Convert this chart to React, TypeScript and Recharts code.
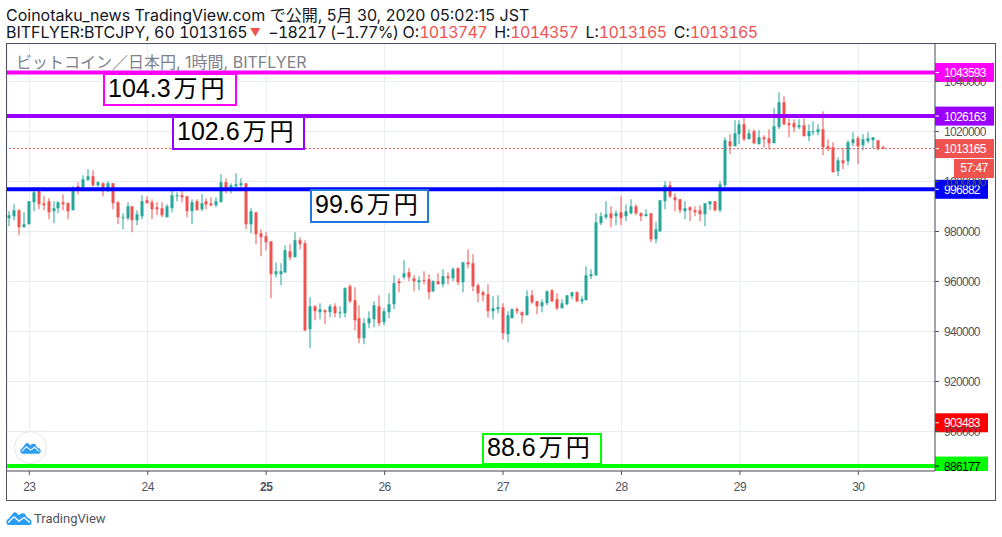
import { Bar, CartesianGrid, ComposedChart, ReferenceLine, XAxis, YAxis } from 'recharts'

const UP = '#26a69a'
const DOWN = '#ef5350'
const AXIS = '#50535e'
const FONT = 'Inter, "Noto Sans CJK JP", sans-serif'
const AXIS_FONT = '"Liberation Sans", sans-serif'
const PANE_BOTTOM = 471

// hourly candles, May 22 20:00 -> May 30 05:00 JST
const opens = [
  985300, 986100, 988500, 981700, 982900, 991700, 996100, 991300, 992100, 988100,
  989300, 991700, 991300, 988500, 998100, 996900, 1000500, 1002100, 998500, 999300,
  997200, 999300, 991700, 985300, 985300, 990100, 984500, 986100, 992500, 991700,
  989700, 989300, 985700, 989300, 994100, 994500, 994100, 988100, 992100, 988900,
  992100, 991300, 990500, 991700, 999700, 997600, 998100, 998500, 999300, 982900,
  987700, 979300, 978100, 976100, 962900, 962900, 963700, 972100, 969700, 976500,
  975300, 940900, 950100, 947700, 948500, 947700, 950100, 947300, 947300, 958100,
  952500, 945300, 937300, 943300, 944900, 950100, 943700, 947700, 950900, 960100,
  961700, 963700, 961300, 959700, 960500, 960900, 956100, 960100, 958900, 962100,
  961300, 965300, 959700, 967700, 967300, 958500, 955700, 954900, 948100, 948900,
  949700, 938900, 945300, 948900, 947700, 946500, 954500, 952100, 950100, 951300,
  956500, 952900, 949300, 950900, 954100, 955700, 952100, 952500, 962100, 962500,
  983300, 985700, 987300, 986100, 987700, 986100, 987300, 990100, 987300, 986100,
  987300, 976900, 980100, 992100, 998500, 993700, 992900, 988100, 989700, 988500,
  988500, 986900, 990900, 992100, 988500, 998500, 1016100, 1014100, 1018900, 1022900,
  1016900, 1020100, 1014900, 1017700, 1017300, 1015300, 1021700, 1031700, 1023300, 1023300,
  1021700, 1022500, 1018100, 1019700, 1019700, 1020900, 1014100, 1013700, 1004100, 1008500,
  1008100, 1015300, 1017300, 1014500, 1016100, 1016500, 1016500, 1013747,
]
const highs = [
  988100, 990900, 988900, 987700, 992100, 997200, 997200, 994100, 993300, 992100,
  992100, 994900, 991700, 998100, 999700, 1002500, 1004900, 1004500, 1000100, 999700,
  1000100, 999300, 992100, 987300, 991700, 990100, 988500, 994500, 994100, 992900,
  991700, 991700, 990900, 996500, 995700, 996500, 994100, 992900, 992900, 994900,
  993300, 993700, 993700, 1002900, 1001300, 999300, 1003300, 1001300, 999300, 989300,
  987700, 980900, 979700, 976100, 967700, 967300, 974500, 974900, 979700, 977700,
  976500, 953700, 950500, 951300, 948900, 950900, 951300, 950100, 957700, 958900,
  957700, 950500, 945300, 948100, 952100, 954500, 949300, 955300, 962500, 961300,
  968500, 965300, 962500, 962100, 964100, 962900, 960500, 963300, 964900, 963700,
  965700, 965700, 967700, 972900, 970900, 959300, 956500, 958900, 954100, 954500,
  951300, 948100, 949300, 949700, 948100, 956500, 956500, 952100, 952900, 956500,
  956900, 955300, 952900, 954500, 955700, 956100, 954100, 966100, 964900, 987300,
  987700, 992100, 990100, 988500, 994100, 990900, 992900, 990900, 987700, 988900,
  987300, 983700, 992500, 1000100, 1000100, 995300, 992900, 992100, 990100, 990100,
  990500, 991300, 992100, 992100, 1000100, 1017700, 1018900, 1024500, 1024500, 1025700,
  1020900, 1020900, 1020500, 1018500, 1020900, 1029300, 1035700, 1034100, 1025300, 1024900,
  1024900, 1025300, 1022900, 1024100, 1022900, 1028100, 1016900, 1015700, 1009700, 1013300,
  1016500, 1019700, 1018100, 1018900, 1019700, 1017700, 1016500, 1014357,
]
const lows = [
  982100, 984500, 978500, 981700, 982900, 988100, 988900, 988500, 984900, 983300,
  987300, 988500, 984900, 988500, 994900, 996100, 1000500, 997900, 997900, 994100,
  995700, 988900, 982900, 980900, 984500, 979700, 982500, 984900, 991300, 984900,
  986500, 985700, 985700, 987700, 992100, 991700, 985700, 982900, 988500, 988100,
  988900, 990100, 989700, 991700, 995300, 995300, 997600, 997700, 980900, 979300,
  974900, 970100, 972500, 953300, 961700, 958500, 963300, 968500, 969700, 972900,
  940100, 933300, 944500, 944900, 942900, 945700, 945700, 945300, 945700, 951300,
  940500, 935300, 934900, 941300, 941700, 942100, 942500, 945300, 948900, 955700,
  960900, 960100, 956100, 956500, 958900, 952900, 955700, 958900, 957700, 958900,
  960100, 958500, 955700, 965300, 956100, 951700, 952100, 945700, 944900, 947300,
  936900, 935700, 945300, 946900, 943300, 946500, 950900, 946900, 947700, 950500,
  951700, 948500, 949300, 950500, 952900, 951700, 950900, 952500, 960900, 962100,
  982500, 984900, 981700, 982500, 982500, 984100, 986900, 986500, 984100, 986100,
  975700, 975300, 979700, 988900, 993300, 988100, 987300, 984900, 984100, 986100,
  984100, 982100, 988500, 988100, 987700, 997700, 1010900, 1014100, 1014900, 1016100,
  1016900, 1014900, 1014900, 1013700, 1012900, 1015300, 1020900, 1022500, 1017700, 1019700,
  1020900, 1018100, 1016100, 1018500, 1018500, 1010500, 1012100, 1003700, 1002100, 1004900,
  1006500, 1014100, 1006900, 1012500, 1015300, 1013300, 1012500, 1013165,
]
const closes = [
  986500, 988500, 981700, 982900, 992100, 995700, 990900, 990500, 987700, 989300,
  991700, 990900, 988100, 996900, 996300, 1000900, 1002100, 998500, 999700, 997200,
  999300, 991300, 985700, 985700, 990100, 984500, 986900, 992100, 991300, 988900,
  988900, 986500, 990100, 994500, 994500, 993700, 988100, 991700, 988500, 991300,
  990900, 990500, 992100, 999700, 997200, 998500, 998900, 999300, 982900, 988100,
  978900, 977700, 975700, 962900, 964100, 964100, 972500, 969700, 976500, 974900,
  940500, 950100, 948100, 948900, 947700, 950100, 947300, 947700, 957300, 952100,
  944500, 937300, 943300, 945300, 950500, 943300, 948100, 950900, 959300, 959300,
  963300, 961700, 960100, 960500, 960100, 955700, 960100, 958900, 962100, 961300,
  964900, 959700, 967700, 966900, 958100, 955300, 954500, 948100, 949300, 949700,
  939300, 946500, 948900, 948100, 946500, 954100, 951700, 950100, 951700, 956100,
  952100, 949300, 951300, 954500, 955700, 952100, 952900, 962500, 962900, 983700,
  986100, 986900, 985300, 987300, 985300, 988100, 990100, 987300, 986100, 986900,
  976900, 980900, 992500, 998500, 994100, 992500, 988500, 989300, 988500, 987700,
  986900, 991300, 992100, 988500, 998900, 1016500, 1014100, 1019300, 1022900, 1016900,
  1019300, 1015300, 1017700, 1016900, 1015300, 1022100, 1031700, 1022900, 1022500, 1021700,
  1022500, 1018100, 1020100, 1020100, 1020900, 1013700, 1013300, 1003700, 1008500, 1007300,
  1015700, 1016900, 1014100, 1016900, 1017300, 1017700, 1012900, 1013165,
]

const dayTicks = [4, 28, 52, 76, 100, 124, 148, 172]
const dayLabels = ['23', '24', '25', '26', '27', '28', '29', '30']
const priceTicks = [900000, 920000, 940000, 960000, 980000, 1000000, 1020000, 1040000]

const levels = [
  { price: 1043593, color: '#ff00ff', text: '#fff', tag: 59, width: 4 },
  { price: 1026163, color: '#9900ff', text: '#fff', tag: 59, width: 4 },
  { price: 996882, color: '#0000ff', text: '#fff', tag: 53, width: 4 },
  { price: 886177, color: '#00ff00', text: '#000', tag: 53, width: 4 },
]

const notes = [
  { value: '104.3', left: 103, top: 73, width: 134, height: 33, color: '#ff00ff' },
  { value: '102.6', left: 172, top: 116, width: 133, height: 34, color: '#9900ff' },
  { value: '99.6', left: 310, top: 189, width: 119, height: 34, color: '#1e78e0' },
  { value: '88.6', left: 482, top: 433, width: 120, height: 32, color: '#00ff00' },
]

const candles = opens.map((o, i) => ({ i, o, h: highs[i], l: lows[i], c: closes[i] }))

function Candle(props: any) {
  const { x, y, width, height, payload } = props
  const { o, h, l, c } = payload
  const color = c >= o ? UP : DOWN
  const cx = Math.round(x + width / 2)
  const perYen = height / (h - l)
  const top = y + (h - Math.max(o, c)) * perYen
  const size = Math.max(Math.abs(o - c) * perYen, 1)
  return (
    <g>
      <rect x={cx - 0.5} y={y} width={1} height={height} fill={color} />
      <rect x={cx - 1.5} y={top} width={3} height={size} fill={color} />
    </g>
  )
}

function priceTag(price: number, fill: string, text: string, tagWidth: number) {
  return (props: any) => {
    const { x, y, width } = props.viewBox
    const left = x + width
    const bottom = Math.min(y + 9.5, PANE_BOTTOM)
    return (
      <g>
        <rect x={left} y={y - 9.5} width={tagWidth} height={bottom - y + 9.5} fill={fill} />
        <line x1={left} x2={left + 4} y1={y} y2={y} stroke={text} />
        <text x={left + 9} y={y + 4.5} fill={text} fontSize={12} letterSpacing={-0.7} fontFamily={AXIS_FONT}>
          {price}
        </text>
      </g>
    )
  }
}

function DayTick(props: any) {
  const { x, y, payload } = props
  const label = dayLabels[dayTicks.indexOf(payload.value)]
  return (
    <text
      x={x}
      y={y + 14}
      textAnchor="middle"
      fill={AXIS}
      fontSize={12}
      letterSpacing={-0.5}
      fontFamily={AXIS_FONT}
      fontWeight={label === '25' ? 700 : 400}
    >
      {label}
    </text>
  )
}

function Logo({ width }: { width: number }) {
  return (
    <svg width={width} viewBox="0 0 36 20" style={{ display: 'block' }}>
      <path
        d="M5 20 C0 20 -1 13 3 11 C5 10 6 7 9 4 C11 1 13 1 15 3 L18 6 C20 3 25 2 27 5 C28 8 29 9 31 10 C37 12 37 20 31 20 Z"
        fill="#2a9df4"
      />
      <path d="M3 16 L11 8 L18 14 L25 9 L33 16" fill="none" stroke="#fff" strokeWidth={1.8} />
    </svg>
  )
}

export default function App() {
  const tight = { letterSpacing: -0.7 }
  const red = { color: DOWN, letterSpacing: -0.7, marginRight: 3 }
  return (
    <div style={{ position: 'absolute', left: 0, top: 0, width: 1002, height: 537, background: '#fff', fontFamily: FONT, overflow: 'hidden' }}>
      <ComposedChart
        width={1002}
        height={537}
        data={candles}
        margin={{ top: 44, right: 7, bottom: 37, left: 7 }}
        style={{ position: 'absolute', left: 0, top: 0 }}
      >
        <CartesianGrid stroke="#e6ecf1" />
        <XAxis
          dataKey="i"
          type="number"
          domain={[-0.52, 187.53]}
          allowDataOverflow
          ticks={dayTicks}
          interval={0}
          height={29}
          tick={<DayTick />}
          tickSize={4}
          stroke={AXIS}
        />
        <YAxis
          orientation="right"
          width={60}
          domain={[884200, 1055000]}
          allowDataOverflow
          ticks={priceTicks}
          interval={0}
          tickSize={4}
          tickMargin={5}
          stroke={AXIS}
          tick={{ fill: AXIS, fontSize: 12, letterSpacing: -0.7, fontFamily: AXIS_FONT }}
        />
        <Bar dataKey={(d: any) => [d.l, d.h]} barSize={4} shape={<Candle />} isAnimationActive={false} />
        <ReferenceLine
          y={1013165}
          stroke={DOWN}
          strokeDasharray="2 2"
          label={priceTag(1013165, DOWN, '#fff', 59)}
        />
        <ReferenceLine y={903483} stroke="none" label={priceTag(903483, '#ff0000', '#fff', 53)} />
        {levels.map((lv) => (
          <ReferenceLine
            key={lv.price}
            y={lv.price}
            stroke={lv.color}
            strokeWidth={lv.width}
            label={priceTag(lv.price, lv.color, lv.text, lv.tag)}
          />
        ))}
      </ComposedChart>

      <div style={{ position: 'absolute', left: 6, top: 43, width: 988, height: 456, border: `1px solid ${AXIS}`, pointerEvents: 'none' }} />

      <div style={{ position: 'absolute', left: 6, top: 6, fontSize: 16, lineHeight: '18px', color: '#131722', whiteSpace: 'nowrap' }}>
        Coinotaku_news TradingView.com で公開, 5月 30, 2020 05:02:15 JST
      </div>
      <div style={{ position: 'absolute', left: 6, top: 23, fontSize: 16, lineHeight: '18px', color: '#131722', whiteSpace: 'nowrap', fontVariantNumeric: 'tabular-nums' }}>
        BITFLYER:BTCJPY, 60 <span style={tight}>1013165</span>
        <span style={{ color: DOWN, fontSize: 11, position: 'relative', top: -2, margin: '0 3px 0 3px' }}>▼</span>{' '}
        <span style={tight}>−18217 (−1.77%)</span> O:<span style={red}>1013747</span> H:
        <span style={red}>1014357</span> L:<span style={red}>1013165</span> C:<span style={red}>1013165</span>
      </div>

      <div style={{ position: 'absolute', left: 16, top: 53, fontSize: 16, lineHeight: '18px', color: '#7d818c', whiteSpace: 'nowrap' }}>
        ビットコイン／日本円, 1時間, BITFLYER
      </div>

      {notes.map((n) => (
        <div
          key={n.value}
          style={{
            position: 'absolute',
            left: n.left,
            top: n.top,
            width: n.width,
            height: n.height,
            boxSizing: 'border-box',
            border: `2px solid ${n.color}`,
            background: '#fff',
            color: '#000',
            fontSize: 25,
            lineHeight: `${n.height - 7}px`,
            paddingLeft: 3,
            fontFamily: '"Liberation Sans", "Noto Sans CJK JP", sans-serif',
            whiteSpace: 'nowrap',
          }}
        >
          {n.value}
          <span style={{ fontSize: 24, letterSpacing: 3, marginLeft: 3 }}>万円</span>
        </div>
      ))}

      <div style={{ position: 'absolute', left: 14, top: 431, width: 33, height: 33, boxSizing: 'border-box', borderRadius: '50%', border: '1px solid #e4e6ea', background: '#fff', padding: '10px 5px' }}>
        <Logo width={21} />
      </div>
      <div style={{ position: 'absolute', left: 6, top: 511 }}>
        <Logo width={26} />
      </div>
      <div style={{ position: 'absolute', left: 34, top: 511, fontSize: 13, lineHeight: '16px', color: '#50535e', fontFamily: 'Roboto, sans-serif' }}>TradingView</div>

      <div style={{ position: 'absolute', left: 954, top: 159, width: 40, height: 19, background: DOWN, color: '#fff', fontSize: 12, letterSpacing: -0.5, lineHeight: '19px', textAlign: 'center', fontFamily: AXIS_FONT }}>
        57:47
      </div>
    </div>
  )
}
